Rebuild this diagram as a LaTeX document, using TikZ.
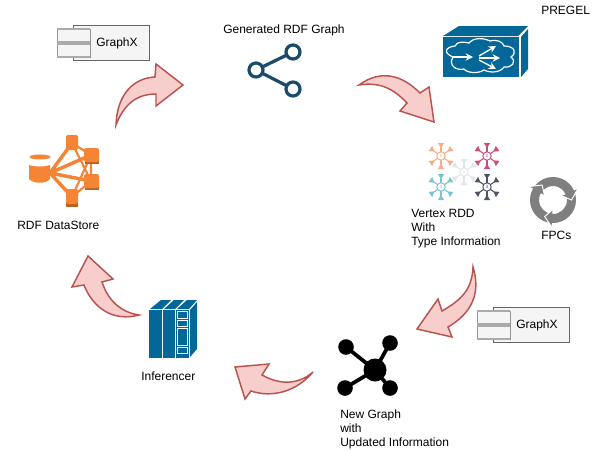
\documentclass[tikz,border=0pt]{standalone}
\usepackage{fontspec}
\setmainfont{Liberation Sans}
\usetikzlibrary{arrows.meta}
\definecolor{bigfill}{HTML}{F8CECC}
\definecolor{bigline}{HTML}{B85450}
\definecolor{ciscoblue}{HTML}{036897}
\definecolor{sharecol}{HTML}{1B4B6B}
\definecolor{orangeA}{HTML}{F58534}
\definecolor{orangeB}{HTML}{B8621F}
\definecolor{boxfill}{HTML}{F5F5F5}
\definecolor{boxline}{HTML}{666666}
\definecolor{stripe}{HTML}{ABABAB}
\definecolor{vA}{HTML}{F6AE8A}
\definecolor{vB}{HTML}{CF4A7E}
\definecolor{vC}{HTML}{E2E5EB}
\definecolor{vD}{HTML}{7CC2D0}
\definecolor{vE}{HTML}{4A5463}
\definecolor{fpcgray}{HTML}{7F7F7F}
\tikzset{
  lbl/.style={anchor=west,inner sep=0pt,font=\fontsize{9}{10.5}\selectfont,text=black,align=left},
  bigarrow/.style={draw=bigline,fill=bigfill,line width=1.1pt,line join=miter},
  compbox/.style={draw=boxline,fill=boxfill,line width=0.65pt},
  compslot/.style={draw=boxline!70,fill=boxfill,line width=0.5pt},
  ring/.style={draw=sharecol,line width=2.4pt,fill=white},
  orangeline/.style={draw=orangeA,line width=2.6pt},
  orangethin/.style={draw=orangeA,line width=1.6pt},
  orangebox/.style={fill=orangeA,rounded corners=1.5pt},
  hubline/.style={draw=black,line width=2.8pt},
  whitefine/.style={draw=white,line width=1pt,-{Stealth[length=5.5pt,width=5.5pt]}}
}
\newcommand{\vertexicon}[3]{%
  \begin{scope}[shift={(#1)}]
    \foreach \a in {35,90,145,215,270,325}{
      \draw[#2,line width=0.8pt] (\a:4.2) -- (\a:10);
      \fill[#2] (\a:8) -- ([shift={(\a+90:3.2)}]\a:13) -- ([shift={(\a-90:3.2)}]\a:13) -- cycle;
    }
    \draw[#2,line width=0.7pt] (0,0) circle (4.2);
    \node[inner sep=0pt,text=#2,font=\fontsize{3.5}{4}\selectfont] at (0,0) {#3};
  \end{scope}}
\newcommand{\compicon}[2]{%
  \begin{scope}[shift={(#1,#2)}]
    \draw[compbox] (16,-4) rectangle (92,31);
    \draw[compslot] (0,0) rectangle (33,28);
    \draw[stripe,line width=1pt] (0,0) -- (33,0) (0,28) -- (33,28);
    \draw[stripe,line width=2.6pt] (0,14) -- (33,14);
  \end{scope}}
\begin{document}
\begin{tikzpicture}[x=0.75pt,y=-0.75pt]
\useasboundingbox (0,0) rectangle (599,450);
\fill[white] (0,0) rectangle (599,450);

% big curved arrows
\draw[bigarrow] (116,125) .. controls (117,95) and (133,78) .. (155,77) -- (156,64) -- (183,85) -- (156,106) -- (156,94) .. controls (137,94) and (124,104) .. (116,125) -- cycle;
\draw[bigarrow] (359,85) .. controls (381,69) and (402,75) .. (420,93) -- (429,87) -- (434,122) -- (400,111) -- (407,103) .. controls (392,87) and (378,82) .. (359,85) -- cycle;
\draw[bigarrow] (473,267) .. controls (481,293) and (472,313) .. (448,327) -- (452,337) -- (417,329) -- (438,299) -- (442,311) .. controls (461,300) and (472,290) .. (473,267) -- cycle;
\draw[bigarrow] (313,372) .. controls (296,392) and (272,398) .. (251,391) -- (245,399) -- (235,367) -- (269,364) -- (262,375) .. controls (280,385) and (298,385) .. (313,372) -- cycle;
\draw[bigarrow] (139,315) .. controls (113,322) and (93,308) .. (84,285) -- (72,287) -- (88,256) -- (113,279) -- (102,282) .. controls (108,300) and (120,312) .. (139,315) -- cycle;

% GraphX components
\compicon{57}{29}
\compicon{477}{311}

% share icon
\coordinate (sa) at (256,70);
\coordinate (sb) at (293,52);
\coordinate (sc) at (293,89);
\draw[sharecol,line width=2.4pt] (sa) -- (sb) (sa) -- (sc);
\draw[ring] (sa) circle (7);
\draw[ring] (sb) circle (7);
\draw[ring] (sc) circle (7);

% cloud box
\fill[ciscoblue] (443,36) -- (459,26) -- (528,26) -- (518,36) -- cycle;
\fill[ciscoblue] (443,37) rectangle (519,77);
\fill[ciscoblue] (521,37) -- (528,29) -- (528,69) -- (521,77) -- cycle;
\draw[white,line width=0.9pt] (453,57) .. controls (443,53) and (445,47) .. (455,46)
  .. controls (457,41) and (464,42) .. (469,43) .. controls (474,37) and (484,38) .. (490,41)
  .. controls (497,39) and (503,42) .. (504,46) .. controls (515,46) and (517,53) .. (511,57)
  .. controls (517,62) and (512,68) .. (504,67) .. controls (500,73) and (490,73) .. (484,70)
  .. controls (478,74) and (467,73) .. (464,69) .. controls (456,71) and (448,65) .. (453,57) -- cycle;
\draw[whitefine] (453,57) -- (473,57);
\draw[whitefine] (479,56) -- (496,46);
\draw[whitefine] (479,58) -- (500,58);
\draw[whitefine] (479,60) -- (496,69);

% vertex icons
\vertexicon{441,156}{vA}{1}
\vertexicon{487,156}{vB}{2}
\vertexicon{464,172}{vC}{5}
\vertexicon{441,187}{vD}{4}
\vertexicon{487,187}{vE}{3}

% FPC circular arrows
\begin{scope}[shift={(553,200)}]
  \fill[fpcgray,even odd rule] (0,0) circle (23) (0,0) circle (14);
  \foreach \t in {0,117,234}{
    \fill[fpcgray] (\t-24:27) -- (\t:18.5) -- (\t-24:10) -- cycle;
    \draw[white,line width=0.7pt] (\t-24:27) -- (\t:18.5) -- (\t-24:10);
  }
\end{scope}

% hub icon
\coordinate (hc) at (375,370);
\coordinate (h1) at (346,347);
\coordinate (h2) at (390,343);
\coordinate (h3) at (345,388);
\coordinate (h4) at (390,388);
\draw[hubline] (hc) -- (h1) (hc) -- (h2) (hc) -- (h3) (hc) -- (h4);
\fill (hc) circle (11.5);
\fill (h1) circle (7.8);
\fill (h2) circle (7.8);
\fill (h3) circle (7.8);
\fill (h4) circle (7.8);

% inferencer
\fill[ciscoblue] (149,310) rectangle (162,358);
\fill[ciscoblue] (163,310) rectangle (175,358);
\fill[ciscoblue] (176,310) rectangle (189,358);
\fill[ciscoblue] (150,309) -- (161,300) -- (171,300) -- (162,309) -- cycle;
\fill[ciscoblue] (164,309) -- (174,300) -- (184,300) -- (175,309) -- cycle;
\fill[ciscoblue] (177,309) -- (187,300) -- (197,300) -- (189,309) -- cycle;
\fill[ciscoblue] (190,310) -- (197,302) -- (197,349) -- (190,357) -- cycle;
\draw[white,line width=0.6pt] (177,311) rectangle (187,318);
\draw[white,line width=0.6pt] (177,320) rectangle (187,326);
\draw[white,line width=0.6pt] (177,328) rectangle (187,345);
\draw[white,line width=0.6pt] (177,347) rectangle (187,353);

% datastore
\coordinate (dc) at (50,173);
\coordinate (d1) at (72,143);
\coordinate (d2) at (91,155);
\coordinate (d3) at (91,181);
\coordinate (d4) at (72,197);
\draw[orangeline] (dc) -- (d1) (dc) -- (d2) (dc) -- (d3) (dc) -- (d4);
\draw[orangethin] (d1) -- (d2) -- (d3) -- (d4) (d1) -- (d3) (d2) -- (d4);
\fill[orangeB] (85,158) rectangle (99,164);
\fill[orangeB] (85,184) rectangle (99,190);
\fill[orangeB] (66,200) rectangle (78,207);
\fill[orangebox] (66,135) rectangle (78,150);
\fill[orangebox] (84,148) rectangle (99,162);
\fill[orangebox] (84,174) rectangle (99,188);
\fill[orangebox] (66,189) rectangle (78,204);
\fill[orangeA] (40,157) ellipse (10.5 and 2.5);
\fill[orangeA] (29,165) .. controls (35,167) and (45,167) .. (50,165) -- (50,179) .. controls (46,184) and (34,184) .. (29,179) -- cycle;

% labels
\node[lbl] (gx1) at (96,43) {GraphX};
\node[lbl] (ds) at (17,225) {RDF DataStore};
\node[lbl] (gen) at (223,30) {Generated RDF Graph};
\node[lbl] (pr) at (541,10) {PREGEL};
\node[lbl,anchor=north west] (vr) at (411,209) {Vertex RDD\\With\\Type Information};
\node[lbl] (fp) at (541,235) {FPCs};
\node[lbl] (gx2) at (516,325) {GraphX};
\node[lbl,anchor=north west] (ng) at (340,410) {New Graph\\with\\Updated Information};
\node[lbl] (inf) at (141,376) {Inferencer};
\end{tikzpicture}
\end{document}
